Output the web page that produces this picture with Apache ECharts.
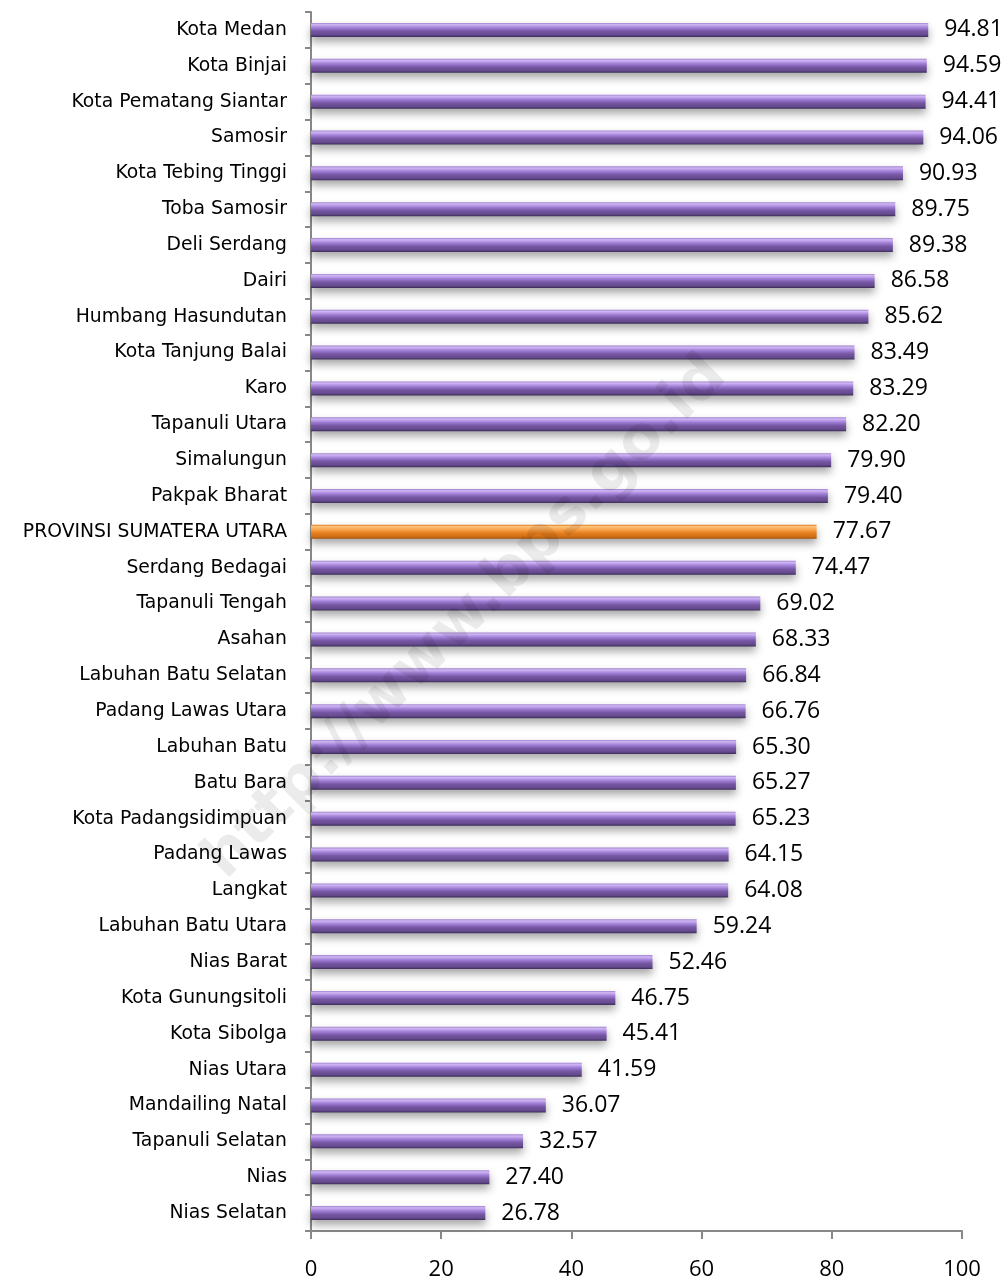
<!DOCTYPE html>
<html><head><meta charset="utf-8">
<script src="https://cdn.jsdelivr.net/npm/echarts@6/dist/echarts.min.js"></script>
<style>html,body{margin:0;padding:0;background:#fff}#c{width:1006px;height:1283px}</style>
</head><body><div id="c"></div>
<script>
const categories = ["Kota Medan","Kota Binjai","Kota Pematang Siantar","Samosir","Kota Tebing Tinggi","Toba Samosir","Deli Serdang","Dairi","Humbang Hasundutan","Kota Tanjung Balai","Karo","Tapanuli Utara","Simalungun","Pakpak Bharat","PROVINSI SUMATERA UTARA","Serdang Bedagai","Tapanuli Tengah","Asahan","Labuhan Batu Selatan","Padang Lawas Utara","Labuhan Batu","Batu Bara","Kota Padangsidimpuan","Padang Lawas","Langkat","Labuhan Batu Utara","Nias Barat","Kota Gunungsitoli","Kota Sibolga","Nias Utara","Mandailing Natal","Tapanuli Selatan","Nias","Nias Selatan"];
const values = [94.81,94.59,94.41,94.06,90.93,89.75,89.38,86.58,85.62,83.49,83.29,82.20,79.90,79.40,77.67,74.47,69.02,68.33,66.84,66.76,65.30,65.27,65.23,64.15,64.08,59.24,52.46,46.75,45.41,41.59,36.07,32.57,27.40,26.78];
const highlight = "PROVINSI SUMATERA UTARA";
const xTicks = [0,20,40,60,80,100];

const purple = new echarts.graphic.LinearGradient(0,0,0,1,[
  {offset:0,color:'#9d80cc'},{offset:0.12,color:'#d0b6f5'},{offset:0.35,color:'#a07fd6'},
  {offset:0.6,color:'#7656a3'},{offset:0.85,color:'#654a8e'},{offset:1,color:'#3b2c56'}]);
const orange = new echarts.graphic.LinearGradient(0,0,0,1,[
  {offset:0,color:'#e07b20'},{offset:0.12,color:'#ffc27a'},{offset:0.35,color:'#f9a24a'},
  {offset:0.6,color:'#e47d1e'},{offset:0.85,color:'#d06e15'},{offset:1,color:'#9a4f0c'}]);

const chart = echarts.init(document.getElementById('c'));
chart.setOption({
  animation:false,
  grid:{left:311,right:44,top:12,bottom:52,containLabel:false},
  graphic:[{type:'text',z:100,silent:true,
    rotation:Math.PI/4,x:466,y:618,
    style:{text:'http://www.bps.go.id',fill:'rgba(0,0,0,0.08)',font:'bold 60px "DejaVu Sans"',textAlign:'center',textVerticalAlign:'middle'}}],
  xAxis:{type:'value',min:0,max:100,interval:20,
    axisLine:{show:true,lineStyle:{color:'#888',width:2}},
    axisTick:{show:true,length:8,lineStyle:{color:'#888',width:2}},
    splitLine:{show:false},
    axisLabel:{margin:28,fontSize:22,color:'#000',fontFamily:'Open Sans'}},
  yAxis:{type:'category',data:categories,inverse:true,
    axisLine:{lineStyle:{color:'#888',width:2}},
    axisTick:{show:true,length:6,lineStyle:{color:'#888',width:2}},
    axisLabel:{margin:24,fontSize:18.8,color:'#000',fontFamily:'DejaVu Sans'}},
  series:[{type:'bar',barWidth:14,
    data:values.map((v,i)=>({value:v,itemStyle:{color:categories[i]===highlight?orange:purple}})),
    itemStyle:{shadowColor:'rgba(0,0,0,0.35)',shadowBlur:8,shadowOffsetY:5},
    label:{show:true,position:'right',distance:16,fontSize:23,color:'#000',fontFamily:'Open Sans',
      formatter:p=>p.value.toFixed(2)}}]
});
</script></body></html>
